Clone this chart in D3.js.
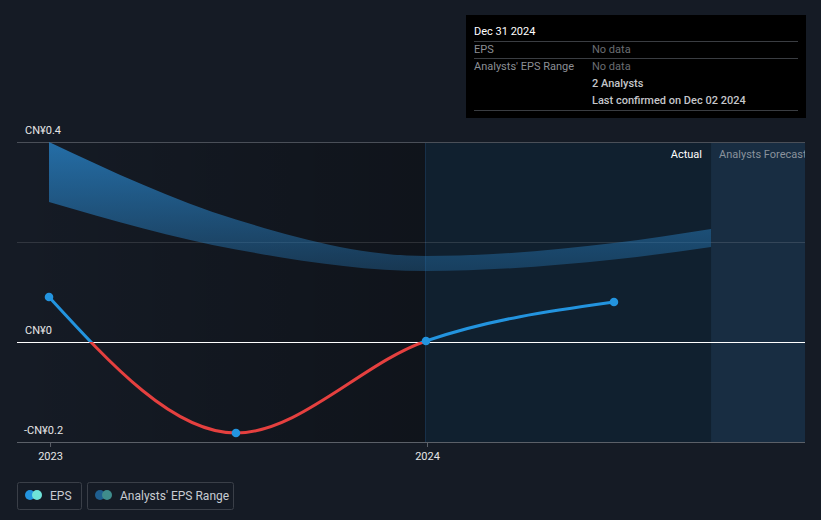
<!DOCTYPE html>
<html>
<head>
<meta charset="utf-8">
<script src="https://cdn.jsdelivr.net/npm/d3@7"></script>
<style>
  html, body { margin: 0; padding: 0; background: #151b25; }
  svg { display: block; font-family: Roboto, "Noto Sans", sans-serif; }
</style>
</head>
<body>
<svg id="chart" width="821" height="520"></svg>
<script>
// ---- data ----
const epsDates = ["2022-12-31", "2023-06-30", "2023-12-31", "2024-06-30"];
const epsValues = [0.09, -0.182, 0.002, 0.08];

const bandDates = ["2022-12-31", "2023-06-30", "2023-12-31", "2024-06-30", "2024-10-02"];
const bandHigh = [0.40, 0.245, 0.172, 0.198, 0.226];
const bandLow = [0.28, 0.185, 0.142, 0.165, 0.19];

const yTicks = [0.4, 0, -0.2];
const yTickLabels = ["CN¥0.4", "CN¥0", "-CN¥0.2"];
const xTicks = ["2023-01-01", "2024-01-01"];
const xTickLabels = ["2023", "2024"];

const todayDate = "2023-12-31";
const forecastStart = "2024-10-02";

const tooltipTitle = "Dec 31 2024";
const tooltipRows = [["EPS", "No data"], ["Analysts' EPS Range", "No data"]];
const tooltipExtra = ["2 Analysts", "Last confirmed on Dec 02 2024"];

const legendItems = ["EPS", "Analysts' EPS Range"];

// ---- setup ----
(function () {
const parse = d3.utcParse("%Y-%m-%d");
const svg = d3.select("#chart");
const pL = 17, pR = 805, pT = 142, pB = 442;

const x = d3.scaleUtc().domain([parse("2022-11-30"), parse("2025-01-01")]).range([pL, pR]);
const y = d3.scaleLinear().domain([-0.2, 0.4]).range([pB, pT]);

const defs = svg.append("defs");
const lg = defs.append("linearGradient").attr("id", "pastGrad").attr("x1", "0").attr("x2", "1").attr("y1", "0").attr("y2", "0");
lg.append("stop").attr("offset", "0").attr("stop-color", "#000").attr("stop-opacity", 0.0);
lg.append("stop").attr("offset", "1").attr("stop-color", "#000").attr("stop-opacity", 0.28);

const bg = defs.append("linearGradient").attr("id", "bandGrad").attr("gradientUnits", "userSpaceOnUse")
  .attr("x1", 0).attr("x2", 0).attr("y1", pT).attr("y2", 275);
bg.append("stop").attr("offset", "0").attr("stop-color", "#2677b5").attr("stop-opacity", 0.9);
bg.append("stop").attr("offset", "1").attr("stop-color", "#2677b5").attr("stop-opacity", 0.34);

defs.append("clipPath").attr("id", "clipPos").append("rect")
  .attr("x", 0).attr("y", 0).attr("width", 821).attr("height", y(0));
defs.append("clipPath").attr("id", "clipNeg").append("rect")
  .attr("x", 0).attr("y", y(0)).attr("width", 821).attr("height", 520 - y(0));

// regions
const xToday = x(parse(todayDate));
const xFc = x(parse(forecastStart));
svg.append("rect").attr("x", pL).attr("y", pT).attr("width", xToday - pL).attr("height", pB - pT)
  .attr("fill", "url(#pastGrad)");
svg.append("rect").attr("x", xToday).attr("y", pT).attr("width", xFc - xToday).attr("height", pB - pT)
  .attr("fill", "#10202f");
svg.append("rect").attr("x", xFc).attr("y", pT).attr("width", pR - xFc).attr("height", pB - pT)
  .attr("fill", "#182d42");

// today line
svg.append("line").attr("x1", Math.floor(xToday) + 0.5).attr("x2", Math.floor(xToday) + 0.5).attr("y1", pT).attr("y2", pB)
  .attr("stroke", "#173049").attr("stroke-width", 1);

// gridlines
svg.append("line").attr("x1", pL).attr("x2", pR).attr("y1", y(0.4) + 0.5).attr("y2", y(0.4) + 0.5)
  .attr("stroke", "#4a4f58").attr("stroke-width", 1);
svg.append("line").attr("x1", pL).attr("x2", pR).attr("y1", y(0.2) + 0.5).attr("y2", y(0.2) + 0.5)
  .attr("stroke", "#ffffff").attr("stroke-opacity", 0.12).attr("stroke-width", 1);

// band
const bandData = bandDates.map((d, i) => ({ date: parse(d), hi: bandHigh[i], lo: bandLow[i] }));
svg.append("path").datum(bandData)
  .attr("d", d3.area().curve(d3.curveMonotoneX).x(d => x(d.date)).y0(d => y(d.lo)).y1(d => y(d.hi)))
  .attr("fill", "url(#bandGrad)");

// zero line
svg.append("line").attr("x1", pL).attr("x2", pR).attr("y1", y(0) + 0.5).attr("y2", y(0) + 0.5)
  .attr("stroke", "#ffffff").attr("stroke-width", 1);

// bottom axis
const xAxis = d3.axisBottom(x).tickValues(xTicks.map(parse)).tickFormat((d, i) => xTickLabels[i]).tickSizeOuter(0).tickSize(5);
const gx = svg.append("g").attr("transform", `translate(0,${pB})`).call(xAxis);
gx.select(".domain").attr("stroke", "#5b6068").attr("d", `M${pL},0.5H${pR}`);
gx.selectAll(".tick line").attr("stroke", "#5b6068");
gx.selectAll(".tick text").attr("fill", "#e6e6e6").attr("font-size", 11).attr("font-family", "Roboto").attr("dy", "0.9em");

// y labels
svg.selectAll(".ylab").data(yTicks).enter().append("text")
  .attr("x", (d, i) => i === 2 ? 24 : 25).attr("y", d => y(d) - 8)
  .attr("fill", "#e6e6e6").attr("font-size", 11).text((d, i) => yTickLabels[i]);

// EPS line
const epsData = epsDates.map((d, i) => ({ date: parse(d), v: epsValues[i] }));
const line = d3.line().curve(d3.curveMonotoneX).x(d => x(d.date)).y(d => y(d.v));
svg.append("path").datum(epsData).attr("d", line).attr("fill", "none")
  .attr("stroke", "#2394df").attr("stroke-width", 3).attr("clip-path", "url(#clipPos)");
svg.append("path").datum(epsData).attr("d", line).attr("fill", "none")
  .attr("stroke", "#e5403f").attr("stroke-width", 3).attr("clip-path", "url(#clipNeg)");
svg.selectAll(".pt").data(epsData).enter().append("circle")
  .attr("cx", d => x(d.date)).attr("cy", d => y(d.v)).attr("r", 4.3).attr("fill", "#2394df");

// Actual / Forecast labels
svg.append("text").attr("x", xFc - 9).attr("y", 158).attr("text-anchor", "end")
  .attr("fill", "#ffffff").attr("font-size", 11).text("Actual");
defs.append("clipPath").attr("id", "clipFc").append("rect")
  .attr("x", xFc).attr("y", pT).attr("width", pR - xFc).attr("height", 30);
svg.append("text").attr("x", xFc + 8).attr("y", 158).attr("fill", "#8a929c").attr("font-size", 11)
  .attr("clip-path", "url(#clipFc)").text("Analysts Forecast");

// tooltip
const tt = svg.append("g");
tt.append("rect").attr("x", 466).attr("y", 15).attr("width", 340).attr("height", 103).attr("fill", "#000000");
tt.append("text").attr("x", 474).attr("y", 35).attr("fill", "#ffffff").attr("font-size", 11).text(tooltipTitle);
[41.5, 58.5, 110.5].forEach(yy => tt.append("line").attr("x1", 474).attr("x2", 798).attr("y1", yy).attr("y2", yy)
  .attr("stroke", "#3a3d42").attr("stroke-width", 1));
tooltipRows.forEach((r, i) => {
  tt.append("text").attr("x", 474).attr("y", 53 + i * 17).attr("fill", "#8c8f95").attr("font-size", 11).text(r[0]);
  tt.append("text").attr("x", 592).attr("y", 53 + i * 17).attr("fill", "#6a6d72").attr("font-size", 11).text(r[1]);
});
tooltipExtra.forEach((t, i) => {
  tt.append("text").attr("x", 592).attr("y", 87 + i * 16.5).attr("fill", "#c4c6ca").attr("font-size", 11)
    .attr("font-weight", 500).text(t);
});

// legend
const lgd = svg.append("g");
const boxes = [{ x: 17, w: 64, c1: "#2394df", c2: "#6fe3d9" }, { x: 87, w: 146, c1: "#1f5f90", c2: "#3f8c8c" }];
boxes.forEach((b, i) => {
  lgd.append("rect").attr("x", b.x + 0.5).attr("y", 482.5).attr("width", b.w).attr("height", 27).attr("rx", 2)
    .attr("fill", "none").attr("stroke", "#3a3f48");
  lgd.append("circle").attr("cx", b.x + 13).attr("cy", 495).attr("r", 5).attr("fill", b.c1);
  lgd.append("circle").attr("cx", b.x + 20).attr("cy", 495).attr("r", 5).attr("fill", b.c2);
  lgd.append("text").attr("x", b.x + 33).attr("y", 499.5).attr("fill", "#c8ccd2").attr("font-size", 12).text(legendItems[i]);
});
})();
</script>
</body>
</html>
